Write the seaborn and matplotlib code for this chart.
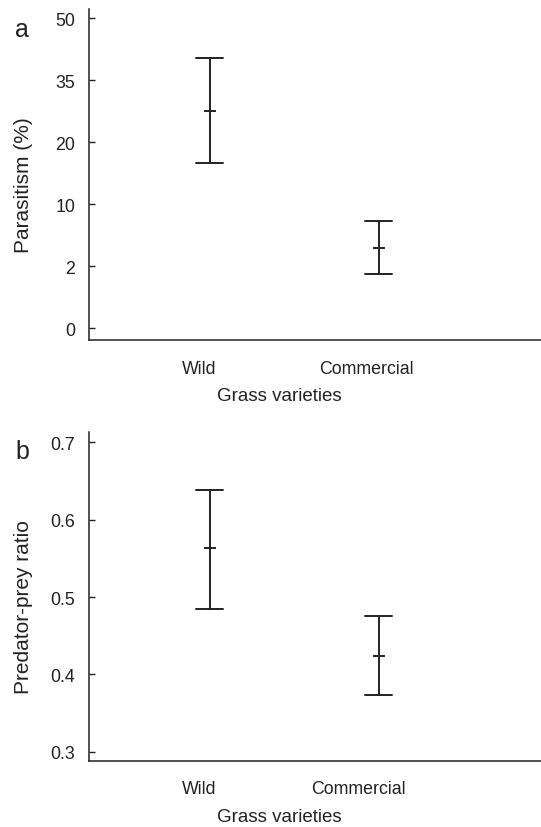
import pandas as pd
import seaborn as sns
import matplotlib.pyplot as plt
import matplotlib.transforms as mtransforms
import numpy as np

# values (mean with lower / upper bounds)
categories = ["Wild", "Commercial"]
parasitism_mean = [27.5, 4.4]
parasitism_low = [16.6, 1.75]
parasitism_high = [40.3, 7.9]
ratio_mean = [0.563, 0.424]
ratio_low = [0.485, 0.373]
ratio_high = [0.638, 0.476]

parasitism_ticks = [0, 2, 10, 20, 35, 50]
ratio_ticks = [0.3, 0.4, 0.5, 0.6, 0.7]


def long_table(mean, low, high):
    rows = []
    for c, m, lo, hi in zip(categories, mean, low, high):
        for v in (lo, m, hi):
            rows.append({"variety": c, "value": v})
    return pd.DataFrame(rows)


# the parasitism axis is evenly spaced between its (uneven) tick values
scale_vals = [-2] + parasitism_ticks + [65]
scale_pos = np.arange(-1, len(parasitism_ticks) + 1)


def fwd(v):
    return np.interp(v, scale_vals, scale_pos)


def inv(p):
    return np.interp(p, scale_pos, scale_vals)


sns.set_theme(style="ticks")
plt.rcParams['font.family'] = ['Liberation Sans', 'DejaVu Sans']
ink = "#222222"

f = plt.figure(figsize=(5.41, 8.28), dpi=100)
ax1 = f.add_axes([0.1645, 0.588, 0.8355, 0.400])
ax2 = f.add_axes([0.1645, 0.0797, 0.8355, 0.397])

panels = [
    (ax1, long_table(parasitism_mean, parasitism_low, parasitism_high), "Parasitism (%)", [-11, -13]),
    (ax2, long_table(ratio_mean, ratio_low, ratio_high), "Predator-prey ratio", [-11, -21]),
]

for ax, df, ylab, offsets in panels:
    ax.patch.set_alpha(0)
    sns.pointplot(data=df, x="variety", y="value", order=categories,
                  estimator="median", errorbar=lambda v: (v.min(), v.max()),
                  color=ink, markers="_", linestyle="none", capsize=0.16,
                  markersize=8, markeredgewidth=1.4, linewidth=1.4,
                  err_kws={"linewidth": 1.4}, ax=ax)
    ax.set_xlim(-0.716, 1.959)
    ax.set_xlabel("Grass varieties", fontsize=13.5, color=ink)
    ax.set_ylabel(ylab, fontsize=15, color=ink)
    ax.xaxis.set_label_coords(0.42, -0.142)
    ax.xaxis.label.set_va("top")
    ax.yaxis.set_label_coords(-0.124, 0.47)
    ax.tick_params(axis="x", length=0, pad=14, labelsize=12.8, labelcolor=ink)
    ax.tick_params(axis="y", direction="in", length=4, width=1, pad=10,
                   labelsize=12.8, labelcolor=ink, color=ink)
    for lab, dx in zip(ax.get_xticklabels(), offsets):
        lab.set_transform(lab.get_transform() +
                          mtransforms.ScaledTranslation(dx / 100, 0, f.dpi_scale_trans))
    sns.despine(ax=ax)
    for s in ("left", "bottom"):
        ax.spines[s].set_linewidth(1.1)
        ax.spines[s].set_color(ink)

# top panel: evenly spaced uneven ticks
ax1.set_yscale("function", functions=(fwd, inv))
ax1.set_yticks(parasitism_ticks)
ax1.set_yticklabels([str(t) for t in parasitism_ticks])
ax1.set_ylim(-0.38, 52.2)

ax2.set_yticks(ratio_ticks)
ax2.set_yticklabels([f"{t:.1f}" for t in ratio_ticks])
ax2.set_ylim(0.288, 0.713)

f.text(0.041, 0.964, "a", fontsize=18, color=ink, ha="center", va="center")
f.text(0.041, 0.454, "b", fontsize=18, color=ink, ha="center", va="center")

f.savefig("out.png", dpi=100)
